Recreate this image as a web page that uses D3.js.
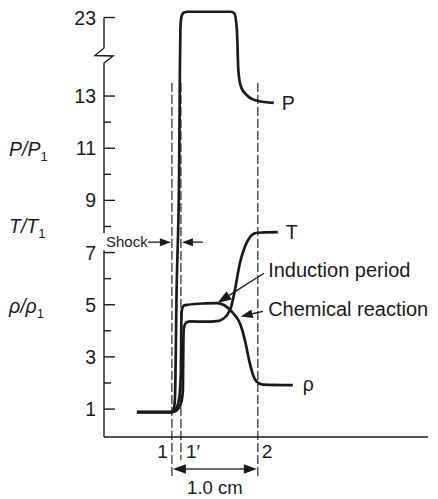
<!DOCTYPE html>
<html>
<head>
<meta charset="utf-8">
<script src="https://cdn.jsdelivr.net/npm/d3@7"></script>
<style>
  body { margin: 0; background: #fff; }
  svg { display: block; }
  text { font-family: "Liberation Sans", Arial, Helvetica, sans-serif; fill: #1a1a1a; }
</style>
</head>
<body>
<svg id="chart" width="438" height="499"></svg>
<script>
// Profiles through a detonation wave: distance (cm, measured from plane 1) vs. ratio to initial state
const pressureX   = [-0.407, -0.023, 0.017, 0.035, 0.055, 0.085, 0.093, 0.099, 0.110, 0.140, 0.186, 0.686, 0.727, 0.756, 0.773, 0.785, 0.810, 0.869, 0.992, 1.186];
const pressureVal = [0.88, 0.88, 0.96, 1.35, 5.56, 10.28, 14.0, 22.52, 23.02, 23.19, 23.22, 23.22, 23.16, 22.52, 14.0, 13.62, 13.31, 13.04, 12.82, 12.74];

const tempX   = [-0.407, -0.023, 0.017, 0.070, 0.110, 0.128, 0.134, 0.140, 0.169, 0.221, 0.384, 0.523, 0.581, 0.640, 0.692, 0.733, 0.791, 0.849, 0.907, 0.977, 1.047, 1.233];
const tempVal = [0.88, 0.88, 0.89, 1.0, 1.27, 1.73, 3.65, 4.11, 4.32, 4.36, 4.35, 4.37, 4.43, 4.60, 4.95, 5.56, 6.59, 7.22, 7.59, 7.75, 7.77, 7.78];

const densityX   = [-0.407, -0.023, 0.017, 0.058, 0.087, 0.105, 0.110, 0.116, 0.140, 0.186, 0.384, 0.523, 0.605, 0.663, 0.733, 0.791, 0.849, 0.907, 0.945, 0.988, 1.058, 1.407];
const densityVal = [0.88, 0.88, 0.90, 1.08, 1.46, 2.5, 4.41, 4.80, 4.97, 5.0, 5.05, 5.06, 4.99, 4.85, 4.60, 4.29, 3.65, 2.75, 2.30, 2.05, 1.94, 1.92];

const seriesNames = ["P", "T", "ρ"];

// Axis ticks (the axis is broken between 13 and 23)
const majorTicks = [1, 3, 5, 7, 9, 11, 13, 23];
const minorTicks = [2, 4, 6, 8, 10, 12];

// Reference planes: 1 (shock front), 1' (behind the shock), 2 (end of reaction)
const planeX      = [0, 0.105, 1.0];
const planeLabels = ["1", "1′", "2"];

const svg = d3.select("#chart");

// Horizontal scale: 1 cm between planes 1 and 2
const x = d3.scaleLinear().domain([-0.79, 2.98]).range([104, 428]);
// Piecewise vertical scale: the interval 14..22 is squeezed into the axis break
const y = d3.scaleLinear().domain([-0.07, 14, 22, 24]).range([437, 69.96, 43.58, -8.58]);

const axisX = x.range()[0];
const axisY = y.range()[0];
const ink = "#1a1a1a";

// ----- Dashed reference planes -----
const planeTop = y(13.5);
const planeBottoms = [axisY + 41, axisY + 23, axisY + 41];
svg.append("g").selectAll("line").data(planeX).join("line")
  .attr("x1", d => x(d)).attr("x2", d => x(d))
  .attr("y1", planeTop).attr("y2", (d, i) => planeBottoms[i])
  .attr("stroke", "#262626").attr("stroke-width", 1.2)
  .attr("stroke-dasharray", "9,3");

// ----- Axes -----
const axes = svg.append("g").attr("stroke", ink).attr("stroke-width", 1.4).attr("fill", "none");
const breakMid = 55.5;
axes.append("path").attr("d",
  `M${axisX},${y(23)} L${axisX},${breakMid - 7.5} L${axisX - 9},${breakMid} L${axisX + 9},${breakMid + 0.5} L${axisX},${breakMid + 7.5} L${axisX},${axisY}`);
axes.append("line").attr("x1", axisX).attr("x2", x.range()[1]).attr("y1", axisY).attr("y2", axisY);

axes.selectAll(".maj").data(majorTicks).join("line").attr("class", "maj")
  .attr("x1", axisX).attr("x2", axisX + 11).attr("y1", d => y(d)).attr("y2", d => y(d));
axes.selectAll(".min").data(minorTicks).join("line").attr("class", "min")
  .attr("x1", axisX).attr("x2", axisX + 7).attr("y1", d => y(d)).attr("y2", d => y(d));

svg.append("g").selectAll("text").data(majorTicks).join("text")
  .attr("x", axisX - 8).attr("y", d => y(d)).attr("dy", "0.36em")
  .attr("text-anchor", "end").attr("font-size", 19.5).text(d => d);

// Axis titles with subscripts
const titles = [
  { sym: "P", y: 156 },
  { sym: "T", y: 233 },
  { sym: "ρ", y: 313 }
];
titles.forEach(t => {
  const txt = svg.append("text").attr("x", 9).attr("y", t.y).attr("font-size", 19.5);
  txt.append("tspan").attr("font-style", "italic").text(`${t.sym}/${t.sym}`);
  txt.append("tspan").attr("font-size", 13).attr("dy", 5).text("1");
});

// ----- Profiles -----
const line = d3.line().x(d => x(d[0])).y(d => y(d[1])).curve(d3.curveMonotoneX);
const series = [
  d3.zip(pressureX, pressureVal),
  d3.zip(tempX, tempVal),
  d3.zip(densityX, densityVal)
];
svg.append("g").selectAll("path").data(series).join("path")
  .attr("d", line).attr("fill", "none").attr("stroke", ink)
  .attr("stroke-width", 2.7).attr("stroke-linejoin", "round");

// Series labels at the right ends
const labelPos = [
  { dx: 8, dy: 7 },
  { dx: 8, dy: 7 },
  { dx: 10, dy: 6 }
];
svg.append("g").selectAll("text").data(series).join("text")
  .attr("x", (d, i) => x(d[d.length - 1][0]) + labelPos[i].dx)
  .attr("y", (d, i) => y(d[d.length - 1][1]) + labelPos[i].dy)
  .attr("font-size", 19.5).text((d, i) => seriesNames[i]);

// ----- Arrow helper -----
function arrow(g, x1, y1, x2, y2, len, half) {
  const a = Math.atan2(y2 - y1, x2 - x1);
  const bx = x2 - len * Math.cos(a), by = y2 - len * Math.sin(a);
  g.append("line").attr("x1", x1).attr("y1", y1).attr("x2", bx).attr("y2", by)
    .attr("stroke", ink).attr("stroke-width", 1.3);
  const px = -Math.sin(a) * half, py = Math.cos(a) * half;
  g.append("path")
    .attr("d", `M${x2},${y2} L${bx + px},${by + py} L${bx - px},${by - py} Z`)
    .attr("fill", ink);
}
const ann = svg.append("g");

// Shock thickness marker
const shockY = y(7.4);
ann.append("rect").attr("x", axisX - 1).attr("y", shockY - 9).attr("width", 44).attr("height", 17).attr("fill", "#fff");
ann.append("text").attr("x", axisX + 2).attr("y", shockY + 5).attr("font-size", 15).text("Shock");
arrow(ann, axisX + 44, shockY, x(planeX[0]) - 1, shockY, 11, 4);
arrow(ann, x(planeX[1]) + 22, shockY, x(planeX[1]) + 1, shockY, 11, 4);

// Induction period
arrow(ann, x(1.07), y(6.21), x(0.529), y(5.07), 14, 4.8);
ann.append("text").attr("x", x(1.12)).attr("y", y(6.21) + 4).attr("font-size", 20).text("Induction period");

// Chemical reaction
arrow(ann, x(1.06), y(4.75), x(0.80), y(4.55), 12, 4.4);
ann.append("text").attr("x", x(1.12)).attr("y", y(4.75) + 5).attr("font-size", 20).text("Chemical reaction");

// Plane labels below the axis
const planeAnchor = ["end", "start", "start"];
const planeDx = [-4, 5, 4];
svg.append("g").selectAll("text").data(planeX).join("text")
  .attr("x", (d, i) => x(d) + planeDx[i]).attr("y", axisY + 21)
  .attr("text-anchor", (d, i) => planeAnchor[i]).attr("font-size", 19)
  .text((d, i) => planeLabels[i]);

// 1.0 cm span between planes 1 and 2
const spanY = axisY + 32;
arrow(ann, (x(0) + x(1)) / 2, spanY, x(0) + 1, spanY, 13, 4.8);
arrow(ann, (x(0) + x(1)) / 2, spanY, x(1) - 1, spanY, 13, 4.8);
svg.append("text").attr("x", (x(0) + x(1)) / 2).attr("y", spanY + 25)
  .attr("text-anchor", "middle").attr("font-size", 18.5).text("1.0 cm");
</script>
</body>
</html>
